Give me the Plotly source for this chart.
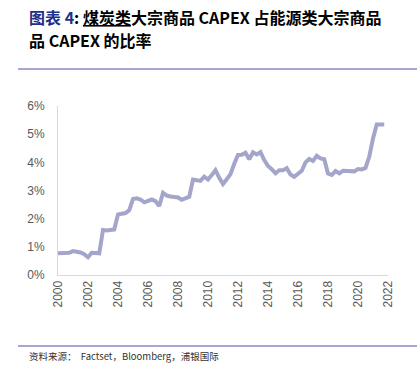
import plotly.graph_objects as go

quarters = [2000 + 0.25 * i for i in range(88)]
ratio_pct = [
    0.77, 0.78, 0.79, 0.79, 0.85, 0.83, 0.80, 0.74,
    0.63, 0.79, 0.77, 0.77, 1.60, 1.58, 1.60, 1.62,
    2.15, 2.19, 2.20, 2.30, 2.70, 2.72, 2.68, 2.58,
    2.62, 2.68, 2.62, 2.45, 2.92, 2.82, 2.79, 2.76,
    2.75, 2.67, 2.72, 2.78, 3.39, 3.36, 3.34, 3.49,
    3.39, 3.55, 3.72, 3.45, 3.23, 3.40, 3.58, 3.95,
    4.26, 4.27, 4.34, 4.11, 4.36, 4.28, 4.36, 4.08,
    3.87, 3.76, 3.61, 3.72, 3.72, 3.79, 3.57, 3.49,
    3.60, 3.70, 4.00, 4.12, 4.05, 4.23, 4.14, 4.11,
    3.60, 3.55, 3.69, 3.61, 3.70, 3.69, 3.68, 3.68,
    3.76, 3.75, 3.80, 4.20, 4.85, 5.34, 5.34, 5.34,
]
ratio = [v / 100 for v in ratio_pct]

x_ticks = list(range(2000, 2023, 2))
y_ticks = [0, 0.01, 0.02, 0.03, 0.04, 0.05, 0.06]

title_line1 = ('<span style="color:#1F2F8A">图表 4</span>: <u>煤炭类</u>大宗商品 CAPEX 占能源类大宗商品')
title_line2 = '品 CAPEX 的比率'
source_text = '资料来源：  Factset，Bloomberg，浦银国际'

fig = go.Figure()
fig.add_trace(go.Scatter(
    x=quarters, y=ratio, mode='lines',
    line=dict(color='#A3A5CB', width=4),
    hoverinfo='skip', showlegend=False,
))

PW, PH = 330, 169
fig.update_layout(
    width=417, height=373,
    margin=dict(l=58, r=29, t=106, b=98),
    paper_bgcolor='white', plot_bgcolor='white',
    font=dict(family='Noto Sans CJK SC, Noto Sans, sans-serif', color='#595959'),
    xaxis=dict(
        range=[2000, 2022], tickvals=x_ticks, ticktext=[str(t) for t in x_ticks],
        tickangle=-90, showgrid=False, zeroline=False,
        showline=True, linecolor='#D9D9D9', linewidth=1,
        ticks='', tickfont=dict(size=12, color='#595959', family='Liberation Sans, Arial, sans-serif'),
    ),
    yaxis=dict(
        range=[0, 0.06], tickvals=y_ticks, tickformat='.0%',
        showgrid=False, zeroline=False,
        showline=True, linecolor='#D9D9D9', linewidth=1,
        ticks='', tickfont=dict(size=12, color='#595959', family='Liberation Sans, Arial, sans-serif'),
        ticklabelstandoff=10,
    ),
    shapes=[
        dict(type='line', xref='paper', yref='paper', x0=-40/PW, x1=1 + 29/PW,
             y0=1 + (106 - 69) / PH, y1=1 + (106 - 69) / PH,
             line=dict(color='#8C89C2', width=1.5)),
        dict(type='line', xref='paper', yref='paper', x0=-40/PW, x1=1 + 29/PW,
             y0=-(346 - 275) / PH, y1=-(346 - 275) / PH,
             line=dict(color='#8C89C2', width=1.5)),
    ],
    annotations=[
        dict(text='<b>' + title_line1 + '</b>',
             xref='paper', yref='paper', align='left',
             x=-31/PW, y=1 + (106 - 16.5) / PH, xanchor='left', yanchor='middle',
             showarrow=False, font=dict(size=16, color='#000000',
                                        family='Noto Sans CJK SC, sans-serif')),
        dict(text='<b>' + title_line2 + '</b>',
             xref='paper', yref='paper', align='left',
             x=-31/PW, y=1 + (106 - 40.5) / PH, xanchor='left', yanchor='middle',
             showarrow=False, font=dict(size=16, color='#000000',
                                        family='Noto Sans CJK SC, sans-serif')),
        dict(text=source_text, xref='paper', yref='paper',
             x=-31/PW, y=-(356 - 275) / PH, xanchor='left', yanchor='middle',
             showarrow=False, font=dict(size=9.5, color='#333333',
                                        family='Noto Sans CJK SC, sans-serif')),
    ],
)

fig.write_html('out.html', config={'displayModeBar': False, 'staticPlot': True},
               post_script="document.body.style.margin='0px';")
